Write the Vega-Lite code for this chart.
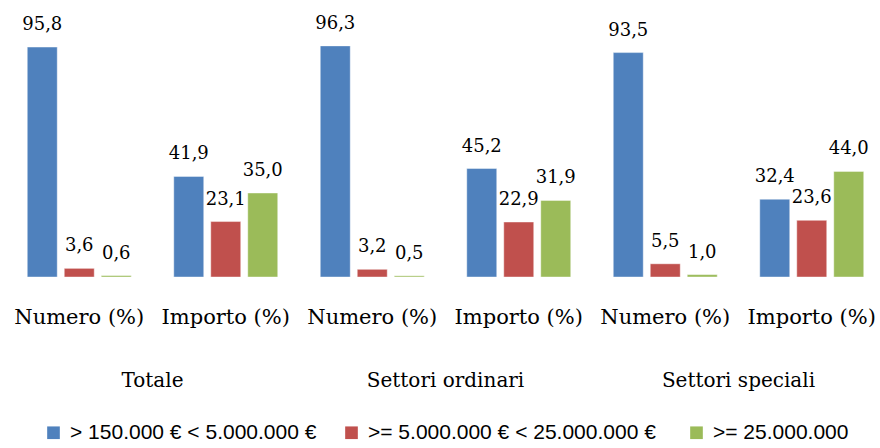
{
  "$schema": "https://vega.github.io/schema/vega-lite/v6.json",
  "padding": {"left": 6, "top": 14, "right": 0, "bottom": 2},
  "background": "white",
  "config": {
    "locale": {"number": {"decimal": ",", "thousands": ".", "grouping": [3], "currency": ["€", ""]}},
    "view": {"stroke": null},
    "font": "DejaVu Serif",
    "legend": {"layout": {"bottom": {"anchor": "middle"}}}
  },
  "data": {"values": [
    {"gruppo": "Totale", "misura": "Numero (%)", "fascia": "> 150.000 € < 5.000.000 €", "valore": 95.8},
    {"gruppo": "Totale", "misura": "Numero (%)", "fascia": ">= 5.000.000 €  < 25.000.000 €", "valore": 3.6},
    {"gruppo": "Totale", "misura": "Numero (%)", "fascia": ">= 25.000.000", "valore": 0.6},
    {"gruppo": "Totale", "misura": "Importo (%)", "fascia": "> 150.000 € < 5.000.000 €", "valore": 41.9},
    {"gruppo": "Totale", "misura": "Importo (%)", "fascia": ">= 5.000.000 €  < 25.000.000 €", "valore": 23.1},
    {"gruppo": "Totale", "misura": "Importo (%)", "fascia": ">= 25.000.000", "valore": 35.0},
    {"gruppo": "Settori ordinari", "misura": "Numero (%)", "fascia": "> 150.000 € < 5.000.000 €", "valore": 96.3},
    {"gruppo": "Settori ordinari", "misura": "Numero (%)", "fascia": ">= 5.000.000 €  < 25.000.000 €", "valore": 3.2},
    {"gruppo": "Settori ordinari", "misura": "Numero (%)", "fascia": ">= 25.000.000", "valore": 0.5},
    {"gruppo": "Settori ordinari", "misura": "Importo (%)", "fascia": "> 150.000 € < 5.000.000 €", "valore": 45.2},
    {"gruppo": "Settori ordinari", "misura": "Importo (%)", "fascia": ">= 5.000.000 €  < 25.000.000 €", "valore": 22.9},
    {"gruppo": "Settori ordinari", "misura": "Importo (%)", "fascia": ">= 25.000.000", "valore": 31.9},
    {"gruppo": "Settori speciali", "misura": "Numero (%)", "fascia": "> 150.000 € < 5.000.000 €", "valore": 93.5},
    {"gruppo": "Settori speciali", "misura": "Numero (%)", "fascia": ">= 5.000.000 €  < 25.000.000 €", "valore": 5.5},
    {"gruppo": "Settori speciali", "misura": "Numero (%)", "fascia": ">= 25.000.000", "valore": 1.0},
    {"gruppo": "Settori speciali", "misura": "Importo (%)", "fascia": "> 150.000 € < 5.000.000 €", "valore": 32.4},
    {"gruppo": "Settori speciali", "misura": "Importo (%)", "fascia": ">= 5.000.000 €  < 25.000.000 €", "valore": 23.6},
    {"gruppo": "Settori speciali", "misura": "Importo (%)", "fascia": ">= 25.000.000", "valore": 44.0}
  ]},
  "facet": {
    "column": {
      "field": "gruppo",
      "type": "nominal",
      "sort": ["Totale", "Settori ordinari", "Settori speciali"],
      "title": null,
      "header": {"labelOrient": "bottom", "labelFont": "DejaVu Serif", "labelFontSize": 20, "labelColor": "black", "labelPadding": 44}
    }
  },
  "spacing": 0,
  "spec": {
    "width": 293,
    "height": 240,
    "encoding": {
      "x": {
        "field": "misura", "type": "nominal", "sort": ["Numero (%)", "Importo (%)"],
        "scale": {"paddingInner": 0, "paddingOuter": 0},
        "axis": {"title": null, "labelAngle": 0, "domain": false, "ticks": false, "labelFont": "DejaVu Serif", "labelFontSize": 21, "labelColor": "black", "labelPadding": 28}
      },
      "xOffset": {
        "field": "fascia", "type": "nominal",
        "sort": ["> 150.000 € < 5.000.000 €", ">= 5.000.000 €  < 25.000.000 €", ">= 25.000.000"],
        "scale": {"paddingInner": 0.19, "paddingOuter": 0.575}
      },
      "y": {"field": "valore", "type": "quantitative", "scale": {"domain": [0, 100]}, "axis": null}
    },
    "layer": [
      {
        "mark": {"type": "bar", "stroke": "white", "strokeWidth": 0.6, "strokeOpacity": 0.7},
        "encoding": {
          "color": {
            "field": "fascia", "type": "nominal",
            "sort": ["> 150.000 € < 5.000.000 €", ">= 5.000.000 €  < 25.000.000 €", ">= 25.000.000"],
            "scale": {"domain": ["> 150.000 € < 5.000.000 €", ">= 5.000.000 €  < 25.000.000 €", ">= 25.000.000"], "range": ["#4F81BD", "#C0504D", "#9BBB59"]},
            "legend": {"orient": "bottom", "direction": "horizontal", "title": null, "symbolType": "square", "symbolSize": 160, "symbolStrokeWidth": 0, "labelFont": "Liberation Sans", "labelFontSize": 21, "labelColor": "black", "labelOffset": 6, "columnPadding": 24, "labelLimit": 400, "offset": 31}
          }
        }
      },
      {
        "mark": {"type": "text", "baseline": "alphabetic", "dy": -17, "font": "DejaVu Serif", "fontSize": 18, "color": "black"},
        "encoding": {"text": {"field": "valore", "type": "quantitative", "format": ".1f"}}
      }
    ]
  }
}
